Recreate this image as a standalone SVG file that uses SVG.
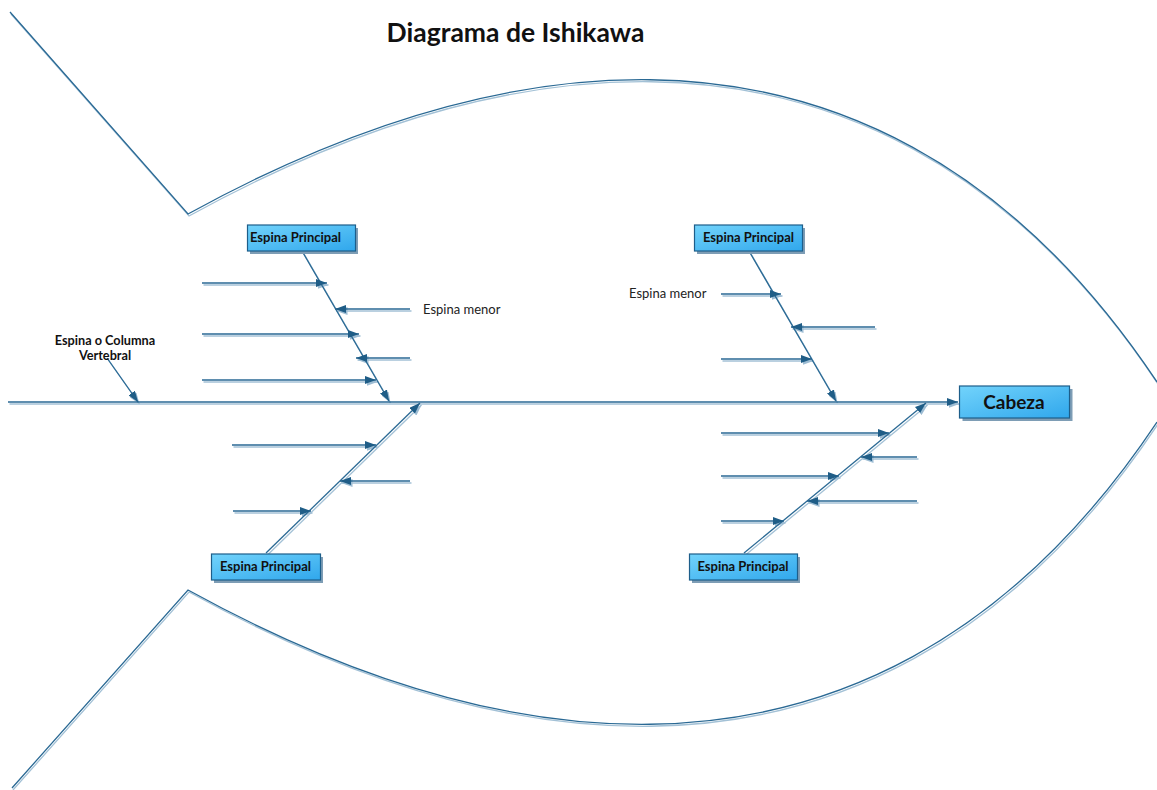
<svg xmlns="http://www.w3.org/2000/svg" xmlns:xlink="http://www.w3.org/1999/xlink" width="1157" height="790" viewBox="0 0 1157 790">
  <style>
    .ink { stroke: #2a6994; stroke-width: 1.3; fill: none; }
    .shade { stroke: #a3c1d6; stroke-width: 1.3; fill: none; }
    .ink-arrows { marker-end: url(#tip-ink); }
    .shade-arrows { marker-end: url(#tip-shade); }
    .box { fill: url(#boxFill); stroke: #1d5e8a; stroke-width: 1.2; }
    .box-shadow { fill: #7e9db5; }
    .label { font-family: Lato, "Liberation Sans", sans-serif; font-weight: bold; fill: #111; text-anchor: middle; }
    .small { font-family: Lato, "Liberation Sans", sans-serif; font-size: 13px; fill: #222; }
    .title { font-family: Lato, "Liberation Sans", sans-serif; font-weight: bold; font-size: 26.5px; fill: #111; text-anchor: middle; }
  </style>
  <defs>
    <linearGradient id="boxFill" x1="0" y1="0" x2="1" y2="1">
      <stop offset="0" stop-color="#72d3fb"/>
      <stop offset="1" stop-color="#30a7ec"/>
    </linearGradient>
    <marker id="tip-ink" viewBox="0 0 11 8" refX="11" refY="4" markerWidth="11" markerHeight="8" markerUnits="userSpaceOnUse" orient="auto">
      <path d="M0,0 L11,4 L0,8 Z" fill="#1f5d87"/>
    </marker>
    <marker id="tip-shade" viewBox="0 0 11 8" refX="11" refY="4" markerWidth="11" markerHeight="8" markerUnits="userSpaceOnUse" orient="auto">
      <path d="M0,0 L11,4 L0,8 Z" fill="#9dbcd3"/>
    </marker>

    <!-- fish body outline: tail fins and the two body curves -->
    <g id="body">
      <path d="M10,12 L188,214 C428,82 857,-68 1157,382"/>
      <path d="M12,788 L188,590 C428,722 857,872 1157,422"/>
    </g>

    <!-- every bone of the skeleton, each ending in an arrowhead -->
    <g id="bones">
      <!-- vertebral column into the head -->
      <path d="M8,402 L958,402"/>
      <!-- pointer from the column label -->
      <path d="M107,358 L138,402"/>

      <!-- upper-left main bone and its minor bones -->
      <path d="M302,251 L389,401"/>
      <path d="M202,283 L327,283"/>
      <path d="M410,309 L335,309"/>
      <path d="M202,334 L359,334"/>
      <path d="M410,358 L356,358"/>
      <path d="M202,380 L376,380"/>

      <!-- lower-left main bone and its minor bones -->
      <path d="M266,553 L420,403"/>
      <path d="M232,445 L376,445"/>
      <path d="M410,481 L340,481"/>
      <path d="M233,511 L311,511"/>

      <!-- upper-right main bone and its minor bones -->
      <path d="M749,251 L836,401"/>
      <path d="M721,294 L781,294"/>
      <path d="M875,327 L791,327"/>
      <path d="M721,359 L812,359"/>

      <!-- lower-right main bone and its minor bones -->
      <path d="M744,553 L926,403"/>
      <path d="M721,433 L889,433"/>
      <path d="M917,457 L861,457"/>
      <path d="M721,476 L839,476"/>
      <path d="M917,501 L807,501"/>
      <path d="M721,521 L784,521"/>
    </g>
  </defs>

  <rect width="1157" height="790" fill="#ffffff"/>

  <text class="title" x="515.5" y="42">Diagrama de Ishikawa</text>

  <g id="outline">
    <use xlink:href="#body" class="shade" transform="translate(1,2)"/>
    <use xlink:href="#body" class="ink"/>
  </g>

  <g id="connectors">
    <use xlink:href="#bones" class="shade shade-arrows" transform="translate(1.5,2)"/>
    <use xlink:href="#bones" class="ink ink-arrows"/>
  </g>

  <g id="column-label">
    <text class="label" x="105" y="345" font-size="12.7">Espina o Columna</text>
    <text class="label" x="105" y="360" font-size="12.7">Vertebral</text>
  </g>

  <g id="minor-label-left">
    <text class="small" x="423" y="313.5">Espina menor</text>
  </g>
  <g id="minor-label-right">
    <text class="small" x="629" y="297.5">Espina menor</text>
  </g>

  <g id="cause-top-left">
    <rect class="box-shadow" x="250" y="228" width="108" height="26"/>
    <rect class="box" x="247.5" y="225" width="108" height="26"/>
    <text class="label" x="295.5" y="241.5" font-size="13">Espina Principal</text>
  </g>

  <g id="cause-top-right">
    <rect class="box-shadow" x="697" y="228" width="108" height="26"/>
    <rect class="box" x="694.5" y="225" width="108" height="26"/>
    <text class="label" x="748.5" y="242" font-size="13">Espina Principal</text>
  </g>

  <g id="cause-bottom-left">
    <rect class="box-shadow" x="214" y="557" width="109" height="26"/>
    <rect class="box" x="211.5" y="554" width="109" height="26"/>
    <text class="label" x="265.5" y="571" font-size="13">Espina Principal</text>
  </g>

  <g id="cause-bottom-right">
    <rect class="box-shadow" x="692" y="557" width="108" height="26"/>
    <rect class="box" x="689.5" y="554" width="108" height="26"/>
    <text class="label" x="743" y="571" font-size="13">Espina Principal</text>
  </g>

  <g id="head">
    <rect class="box-shadow" x="962.5" y="389" width="110" height="32"/>
    <rect class="box" x="959.5" y="386" width="110" height="32"/>
    <text class="label" x="1014" y="408.5" font-size="19">Cabeza</text>
  </g>
</svg>
